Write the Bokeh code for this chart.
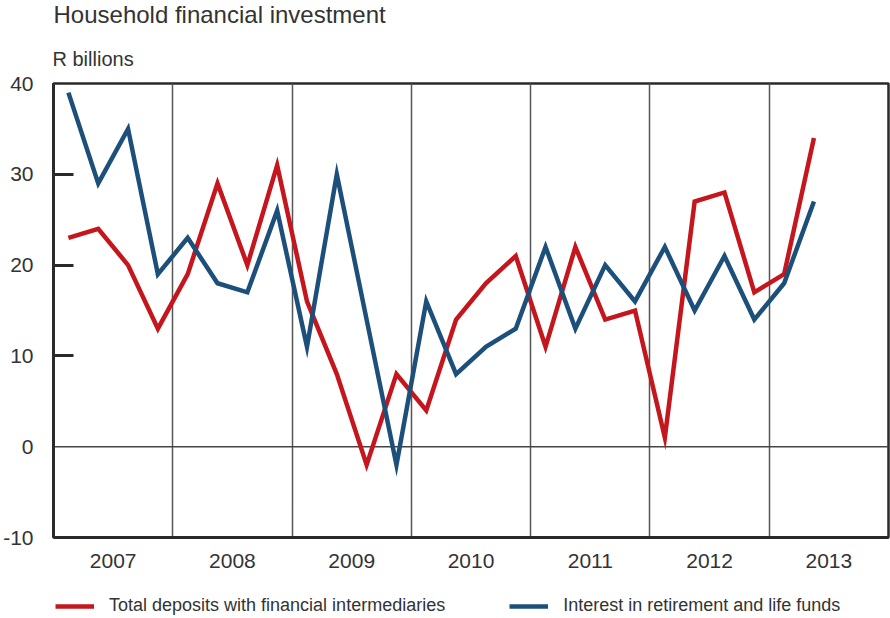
from bokeh.plotting import figure
from bokeh.models import Range1d, FixedTicker, Span, Legend, LegendItem, Label
from bokeh.layouts import column
from bokeh.embed import file_html
from bokeh.resources import INLINE

# ---- data ----
years = [2007, 2008, 2009, 2010, 2011, 2012, 2013]
quarters_per_year = [4, 4, 4, 4, 4, 4, 2]
deposits = [23, 24, 20, 13,
            19, 29, 20, 31,
            16, 8, -2, 8,
            4, 14, 18, 21,
            11, 22, 14, 15,
            1, 27, 28, 17,
            19, 34]
retirement = [39, 29, 35, 19,
              23, 18, 17, 26,
              11, 30, 14, -2,
              16, 8, 11, 13,
              22, 13, 20, 16,
              22, 15, 21, 14,
              18, 27]
y_ticks = [-10, 0, 10, 20, 30, 40]
y_tick_marks = [10, 20, 30]
year_labels = [str(y) for y in years]
series_names = ["Total deposits with financial intermediaries",
                "Interest in retirement and life funds"]
title_text = "Household financial investment"
unit_text = "R billions"

# quarter positions (centre of each quarter within its year)
x = []
for y, n in zip(years, quarters_per_year):
    for q in range(n):
        x.append(y + (q + 0.5) / 4)

FONT = "Liberation Sans"
TXT = "#333333"
RED = "#c5161d"
BLUE = "#1c4f7a"
DARK = "#2a2a2a"
W = 890


def blank(height):
    f = figure(width=W, height=height, output_backend="svg", toolbar_location=None,
               x_range=Range1d(0, W), y_range=Range1d(height, 0),
               x_axis_location=None, y_axis_location=None,
               min_border=0, min_border_left=0, min_border_right=0,
               min_border_top=0, min_border_bottom=0)
    f.grid.visible = False
    f.outline_line_color = None
    f.background_fill_color = "white"
    f.border_fill_color = "white"
    f.frame_align = False
    return f


# ---- header (title + unit) ----
head = blank(71)
head.add_layout(Label(x=53, y=13.5, text=title_text, text_align="left",
                      text_baseline="alphabetic", text_font=FONT,
                      text_font_size="24px", text_color=TXT))
head.add_layout(Label(x=52, y=58.5, text=unit_text, text_align="left",
                      text_baseline="alphabetic", text_font=FONT,
                      text_font_size="20px", text_color=TXT))

# ---- main chart ----
p = figure(width=W, height=507, output_backend="svg", toolbar_location=None,
           x_range=Range1d(years[0], years[-1] + 1), y_range=Range1d(-10, 40),
           min_border_left=53, min_border_right=2, min_border_top=12,
           min_border_bottom=41)
p.frame_align = False
p.background_fill_color = "white"
p.border_fill_color = "white"
p.outline_line_color = DARK
p.outline_line_width = 2.5

p.ygrid.visible = False
p.xgrid.ticker = FixedTicker(ticks=years[1:])
p.xgrid.grid_line_color = "#555555"
p.xgrid.grid_line_width = 1.5

p.add_layout(Span(location=0, dimension="width", line_color="#444444",
                  line_width=1.5, level="underlay"))

p.xaxis.ticker = FixedTicker(ticks=[y + 0.5 for y in years])
p.xaxis.major_label_overrides = {y + 0.5: lab for y, lab in zip(years, year_labels)}
p.xaxis.major_tick_line_color = None
p.xaxis.minor_tick_line_color = None
p.xaxis.axis_line_color = DARK
p.xaxis.axis_line_width = 3
p.xaxis.major_label_standoff = 10
p.xaxis.major_label_text_font = FONT
p.xaxis.major_label_text_font_size = "21px"
p.xaxis.major_label_text_color = TXT

p.yaxis.ticker = FixedTicker(ticks=y_ticks, minor_ticks=y_tick_marks)
p.yaxis.major_tick_line_color = None
p.yaxis.minor_tick_in = 20
p.yaxis.minor_tick_out = 0
p.yaxis.minor_tick_line_width = 3
p.yaxis.minor_tick_line_color = DARK
p.yaxis.axis_line_color = DARK
p.yaxis.axis_line_width = 3
p.yaxis.major_label_standoff = 14
p.yaxis.major_label_overrides = {-10: "-10"}
p.yaxis.major_label_text_font = FONT
p.yaxis.major_label_text_font_size = "21px"
p.yaxis.major_label_text_color = TXT

p.line(x, deposits, line_color=RED, line_width=4.5, line_join="miter")
p.line(x, retirement, line_color=BLUE, line_width=4.5, line_join="miter")

# ---- legend strip (key lines fall outside this strip's range, only the
#      legend swatches show) ----
foot = blank(40)
k1 = foot.line(x, deposits, line_color=RED, line_width=4.5)
k2 = foot.line(x, retirement, line_color=BLUE, line_width=4.5)
legend = Legend(items=[LegendItem(label=series_names[0], renderers=[k1]),
                       LegendItem(label=series_names[1], renderers=[k2])],
                orientation="horizontal", location=(55, 2),
                glyph_width=39, glyph_height=20, label_height=20,
                label_standoff=15, spacing=64, padding=0, margin=0,
                border_line_color=None, background_fill_alpha=0,
                label_text_font=FONT, label_text_font_size="18px",
                label_text_color=TXT)
foot.add_layout(legend)

layout = column(head, p, foot, spacing=0)
open("out.html", "w").write(file_html(layout, INLINE))
